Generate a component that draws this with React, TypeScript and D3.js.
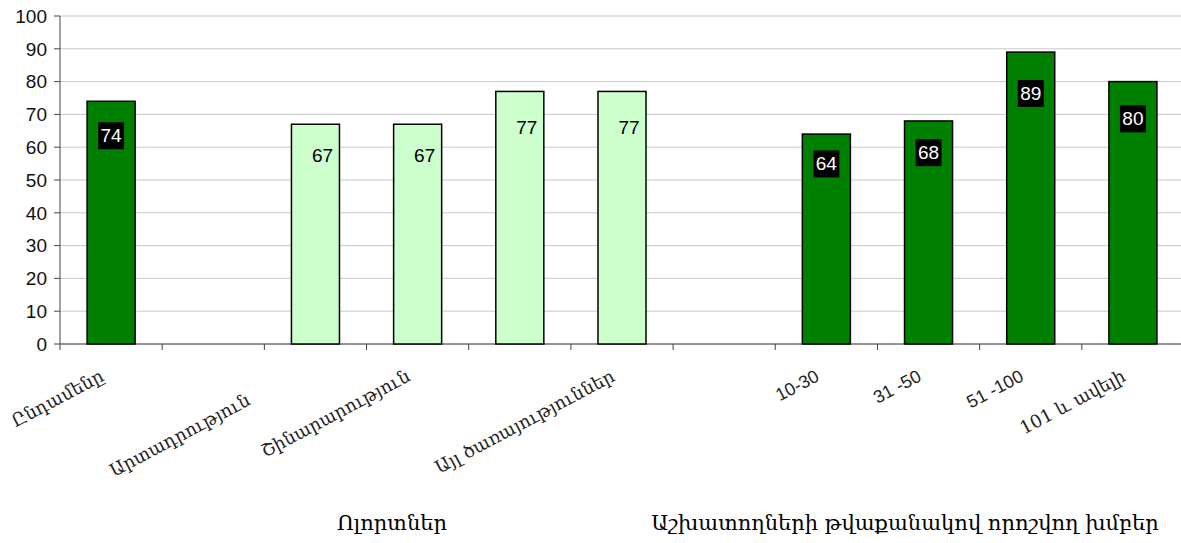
import React from "react";
import * as d3 from "d3";

const categories = [
  "Ընդամենը",
  "Արտադրություն",
  "",
  "Շինարարություն",
  "",
  "Այլ ծառայություններ",
  "",
  "10-30",
  "31 -50",
  "51 -100",
  "101 և ավելի",
];
const values: (number | null)[] = [74, null, 67, 67, 77, 77, null, 64, 68, 89, 80];
const kinds = ["dark", "", "light", "light", "light", "light", "", "dark", "dark", "dark", "dark"];
const yTicks = [0, 10, 20, 30, 40, 50, 60, 70, 80, 90, 100];
const groupTitles = ["Ոլորտներ", "Աշխատողների թվաքանակով որոշվող խմբեր"];

const W = 1181;
const H = 543;
const left = 60;
const right = 1184;
const top = 16;
const bottom = 344;

export default function App() {
  const x = d3
    .scaleBand<number>()
    .domain(categories.map((_, i) => i))
    .range([left, right])
    .paddingInner(0.53)
    .paddingOuter(0.265);
  const y = d3.scaleLinear().domain([0, 100]).range([bottom, top]);
  const step = x.step();
  const center = (i: number) => (x(i) as number) + x.bandwidth() / 2;
  const armFont = "DejaVu Serif, serif";
  const numFont = "Liberation Sans, Arial, sans-serif";

  return (
    <svg
      width={W}
      height={H}
      style={{ position: "absolute", left: 0, top: 0, background: "#fff" }}
    >
      {/* gridlines */}
      {yTicks.map((t) => (
        <line
          key={"g" + t}
          x1={left}
          x2={W}
          y1={y(t)}
          y2={y(t)}
          stroke="#c8c8c8"
          strokeWidth={1}
        />
      ))}
      {/* y axis */}
      <line x1={left} x2={left} y1={top} y2={bottom + 6} stroke="#444" strokeWidth={1} />
      {yTicks.map((t) => (
        <g key={"t" + t}>
          <line x1={left - 6} x2={left} y1={y(t)} y2={y(t)} stroke="#444" />
          <text
            x={left - 13}
            y={y(t)}
            dy="0.36em"
            textAnchor="end"
            fontFamily={numFont}
            fontSize={19}
            fill="#111"
          >
            {t}
          </text>
        </g>
      ))}
      {/* x axis */}
      <line x1={left} x2={W} y1={bottom} y2={bottom} stroke="#444" strokeWidth={1} />
      {categories.map((_, i) => (
        <line
          key={"xt" + i}
          x1={left + step * (i + 1)}
          x2={left + step * (i + 1)}
          y1={bottom}
          y2={bottom + 6}
          stroke="#444"
        />
      ))}
      {/* bars */}
      {values.map((v, i) =>
        v == null ? null : (
          <rect
            key={"b" + i}
            x={x(i)}
            y={y(v)}
            width={x.bandwidth()}
            height={bottom - y(v)}
            fill={kinds[i] === "dark" ? "#008000" : "#ccffcc"}
            stroke="#000"
            strokeWidth={1.5}
          />
        )
      )}
      {/* value labels */}
      {values.map((v, i) => {
        if (v == null) return null;
        const cy = y(v * 0.86);
        const cx = center(i);
        if (kinds[i] === "dark") {
          return (
            <g key={"l" + i}>
              <rect x={cx - 13} y={cy - 13} width={26} height={27} fill="#000" />
              <text
                x={cx}
                y={cy}
                dy="0.36em"
                textAnchor="middle"
                fontFamily={numFont}
                fontSize={19}
                fill="#fff"
              >
                {v}
              </text>
            </g>
          );
        }
        return (
          <text
            key={"l" + i}
            x={cx + 7}
            y={cy}
            dy="0.36em"
            textAnchor="middle"
            fontFamily={numFont}
            fontSize={19}
            fill="#000"
          >
            {v}
          </text>
        );
      })}
      {/* category labels */}
      {categories.map((c, i) => {
        if (!c) return null;
        const numeric = /^\d/.test(c) && i < 10;
        const extra = i === 1 ? { dx: 28, dy: 42 } : { dx: 0, dy: 0 };
        return (
          <text
            key={"c" + i}
            transform={`translate(${center(i) - 6},${bottom + 36}) rotate(-28)`}
            x={extra.dx}
            y={extra.dy}
            textAnchor="end"
            fontFamily={numeric ? numFont : armFont}
            fontSize={numeric ? 18 : 18}
            fill="#222"
          >
            {c}
          </text>
        );
      })}
      {/* group titles */}
      <text x={392} y={530} textAnchor="middle" fontFamily={armFont} fontSize={21} fill="#000">
        {groupTitles[0]}
      </text>
      <text x={905} y={530} textAnchor="middle" fontFamily={armFont} fontSize={21} fill="#000">
        {groupTitles[1]}
      </text>
    </svg>
  );
}
